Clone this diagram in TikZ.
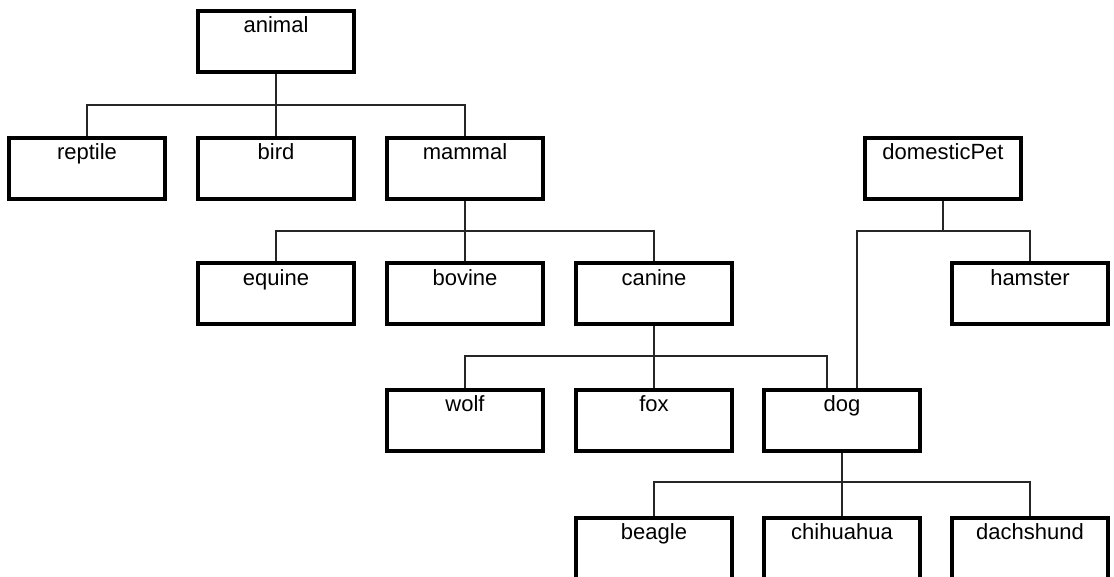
\documentclass[tikz,border=0pt]{standalone}
\usepackage{fontspec}
\setmainfont{Liberation Sans}
\tikzset{
  box/.style={draw, line width=2pt, minimum width=78pt, minimum height=30.5pt,
    inner sep=0pt, text height=11pt, text depth=19.5pt,
    font=\fontsize{11}{13}\selectfont},
  tak/.style={line width=0.75pt, black!85}
}
\begin{document}
\begin{tikzpicture}[x=0.5pt, y=-0.5pt]
                \useasboundingbox (0,0) rectangle (1114,577);
                
                % knopen per rij
                \node[box] (animal) at (276,41.5) {animal};
                
                \node[box] (reptile) at (87,168.5) {reptile};
                \node[box] (bird) at (276,168.5) {bird};
                \node[box] (mammal) at (465,168.5) {mammal};
                \node[box] (domesticPet) at (943,168.5) {domesticPet};
                
                \node[box] (equine) at (276,294) {equine};
                \node[box] (bovine) at (465,294) {bovine};
                \node[box] (canine) at (654,294) {canine};
                \node[box] (hamster) at (1030,294) {hamster};
                
                \node[box] (wolf) at (465,420) {wolf};
                \node[box] (fox) at (654,420) {fox};
                \node[box] (dog) at (842,420) {dog};
                
                \node[box] (beagle) at (654,548) {beagle};
                \node[box] (chihuahua) at (842,548) {chihuahua};
                \node[box] (dachshund) at (1030,548) {dachshund};
                
                % verbindingen via een horizontale lijn
                \coordinate (animalbus) at (276,105);
                \coordinate (mammalbus) at (465,231);
                \coordinate (petbus) at (943,231);
                \coordinate (caninebus) at (654,356);
                \coordinate (dogbus) at (842,482);
                
                \draw[tak] (animal.south) -- (animalbus);
                \draw[tak] (reptile.north) |- (animalbus);
                \draw[tak] (bird.north) -- (animalbus);
                \draw[tak] (mammal.north) |- (animalbus);
                
                \draw[tak] (mammal.south) -- (mammalbus);
                \draw[tak] (equine.north) |- (mammalbus);
                \draw[tak] (bovine.north) -- (mammalbus);
                \draw[tak] (canine.north) |- (mammalbus);
                
                \draw[tak] (domesticPet.south) -- (petbus);
                \draw[tak] ([xshift=7.5pt]dog.north) |- (petbus);
                \draw[tak] (hamster.north) |- (petbus);
                
                \draw[tak] (canine.south) -- (caninebus);
                \draw[tak] (wolf.north) |- (caninebus);
                \draw[tak] (fox.north) -- (caninebus);
                \draw[tak] ([xshift=-7.5pt]dog.north) |- (caninebus);
                
                \draw[tak] (dog.south) -- (dogbus);
                \draw[tak] (beagle.north) |- (dogbus);
                \draw[tak] (chihuahua.north) -- (dogbus);
                \draw[tak] (dachshund.north) |- (dogbus);
                \end{tikzpicture}
\end{document}
